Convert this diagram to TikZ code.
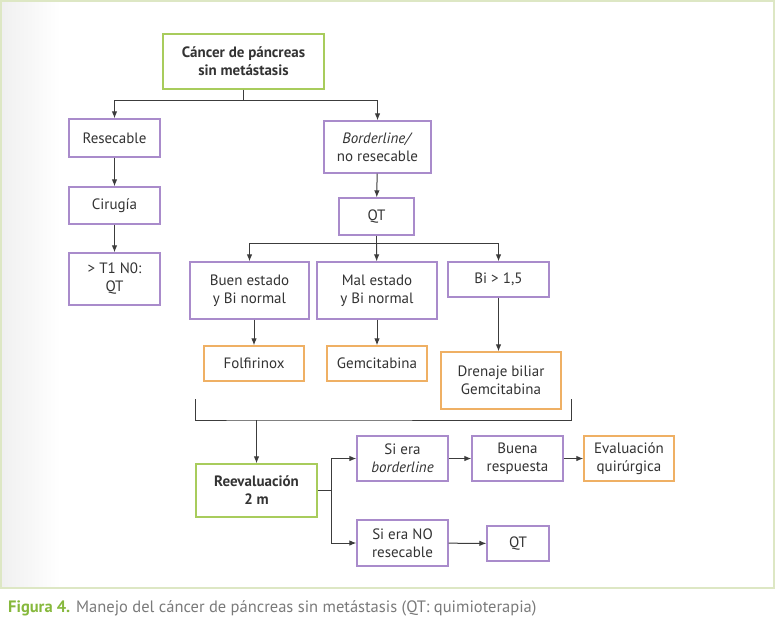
\documentclass[tikz,border=0pt]{standalone}
\usepackage{fontspec}
\setmainfont{PT Sans}
\usepackage{tikz}
\usetikzlibrary{arrows.meta}
\definecolor{boxgreen}{HTML}{A8CC5C}
\definecolor{boxpurple}{HTML}{A98BCB}
\definecolor{boxorange}{HTML}{EFB064}
\definecolor{framegreen}{HTML}{DDE7C4}
\definecolor{capgreen}{HTML}{86B83C}
\definecolor{capgrey}{HTML}{7A7A7A}
\definecolor{linegrey}{HTML}{3C3C3C}

\begin{document}
\begin{tikzpicture}[x=1pt, y=-1pt,
    every node/.style={font=\fontsize{15}{18}\selectfont, align=center, text=black!80, inner sep=0},
    box/.style args={#1/#2/#3}{draw=#1, line width=1.3pt, fill=white, minimum width=#2, minimum height=#3},
    gbox/.style args={#1/#2}{box=boxgreen/#1/#2, font=\fontsize{15}{18}\selectfont\bfseries},
    pbox/.style args={#1/#2}{box=boxpurple/#1/#2},
    obox/.style args={#1/#2}{box=boxorange/#1/#2},
    con/.style={draw=linegrey, line width=1pt},
    >={Latex[length=7pt, width=5.5pt]}
  ]
  \useasboundingbox (0,0) rectangle (775,624);
  % frame
  \shade[left color=black!6, right color=white] (1,1) rectangle (60,588);
  \draw[framegreen, line width=1.6pt] (1,1) rectangle (774,588);

  % first level
  \node[gbox=161pt/55pt] (top) at (243.5,61.5) {Cáncer de páncreas\\sin metástasis};
  \node[pbox=91pt/38pt] (res) at (114.5,138) {Resecable};
  \node[pbox=91pt/37pt] (cir) at (114.5,205.5) {Cirugía};
  \node[pbox=91pt/52pt] (t1) at (114.5,279) {> T1 N0:\\QT};
  \node[pbox=107pt/52pt] (bord) at (377.5,147) {\textit{Borderline/}\\no resecable};
  \node[pbox=75pt/37pt] (qt) at (376.5,216.5) {QT};

  % quimioterapia
  \node[pbox=119pt/57pt] (buen) at (249.5,290.5) {Buen estado\\y Bi normal};
  \node[pbox=120pt/57pt] (mal) at (377,290.5) {Mal estado\\y Bi normal};
  \node[pbox=101pt/35pt] (bi) at (498.5,279.5) {Bi > 1,5};
  \node[obox=100pt/35pt] (folf) at (254,363.5) {Folfirinox};
  \node[obox=100pt/35pt] (gem) at (377,363.5) {Gemcitabina};
  \node[obox=120pt/57pt] (dren) at (501,380.5) {Drenaje biliar\\Gemcitabina};

  % reevaluacion
  \node[gbox=121pt/53pt] (reev) at (256.5,490.5) {Reevaluación\\2 m};
  \node[pbox=91pt/45pt] (sib) at (402.5,458.5) {Si era\\\textit{borderline}};
  \node[pbox=91pt/45pt] (buena) at (517.5,458.5) {Buena\\respuesta};
  \node[obox=90pt/45pt] (eval) at (629,458.5) {Evaluación\\quirúrgica};
  \node[pbox=91pt/46pt] (sino) at (402.5,543) {Si era NO\\resecable};
  \node[pbox=62pt/35pt] (qtb) at (518,543.5) {QT};

  \coordinate (T) at (243.5,100);
  \coordinate (Q) at (376.5,243);
  \coordinate (R) at (331,490.5);
  \coordinate (BL) at (195,399);
  \coordinate (BR) at (571,399);
  \coordinate (B) at (256.5,420);

  \draw[con] (top) -- (T);
  \draw[con,->] (T) -| (res);
  \draw[con,->] (T) -| (bord);
  \draw[con,->] (res) -- (cir);
  \draw[con,->] (cir) -- (t1);
  \draw[con,->] (bord) -- (qt);
  \draw[con] (qt) -- (Q);
  \draw[con,->] (Q) -| (buen);
  \draw[con,->] (Q) -- (mal);
  \draw[con,->] (Q) -| (bi);
  \draw[con,->] (buen.south -| folf) -- (folf);
  \draw[con,->] (mal) -- (gem);
  \draw[con,->] (bi) -- (bi.south |- dren.north);
  \draw[con] (BL) |- (B) -| (BR);
  \draw[con,->] (B) -- (reev);
  \draw[con] (reev) -- (R);
  \draw[con,->] (R) |- (sib);
  \draw[con,->] (R) |- (sino);
  \draw[con,->] (sib) -- (buena);
  \draw[con,->] (buena) -- (eval);
  \draw[con,->] (sino) -- (qtb);

  % caption
  \node[anchor=base west, font=\fontsize{16.5}{20}\selectfont, text=capgrey] (cap) at (8,612)
    {\textcolor{capgreen}{\bfseries Figura 4.} Manejo del cáncer de páncreas sin metástasis (QT: quimioterapia)};
\end{tikzpicture}
\end{document}
